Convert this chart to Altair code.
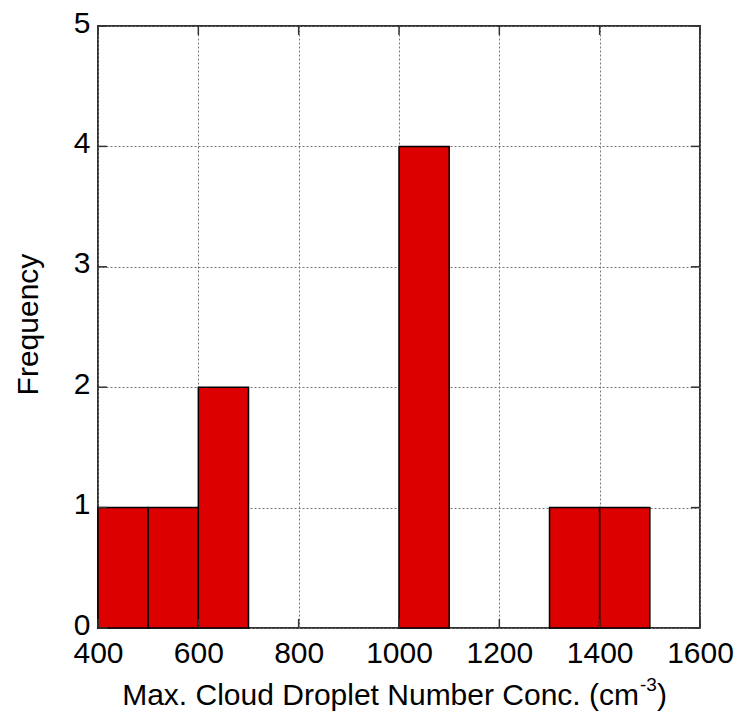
import altair as alt
import pandas as pd

# Histogram data
bin_start = [400, 500, 600, 1000, 1300, 1400]
bin_end = [500, 600, 700, 1100, 1400, 1500]
frequency = [1, 1, 2, 4, 1, 1]
x_ticks = [400, 600, 800, 1000, 1200, 1400, 1600]
y_ticks = [0, 1, 2, 3, 4, 5]

W, H = 602, 602
FONT = "Liberation Sans"
FS = 30

bars_df = pd.DataFrame({"start": bin_start, "end": bin_end, "freq": frequency})
xt_df = pd.DataFrame({"v": x_ticks})
yt_df = pd.DataFrame({"v": y_ticks})

xs = alt.Scale(domain=[400, 1600], nice=False, zero=False)
ys = alt.Scale(domain=[0, 5], nice=False)

x_axis = alt.Axis(values=x_ticks, title=None, grid=True, gridDash=[2, 2],
                  gridColor="#777777", gridWidth=1, ticks=False, domain=False,
                  labelFontSize=FS, labelFont=FONT, labelColor="black",
                  labelPadding=10, labelFlush=False, format="d")
y_axis = alt.Axis(values=y_ticks, title="Frequency", grid=True, gridDash=[2, 2],
                  gridColor="#777777", gridWidth=1, ticks=False, domain=False,
                  labelFontSize=FS, labelFont=FONT, labelColor="black",
                  labelPadding=8, labelFlush=False, format="d", labelOffset=-3,
                  titleFontSize=FS, titleFont=FONT, titleFontWeight="normal",
                  titleColor="black", titleX=-55, titleY=298, titleAngle=270,
                  titleBaseline="bottom")

bars = alt.Chart(bars_df).mark_rect(fill="#DD0000", stroke="black", strokeWidth=1.5).encode(
    x=alt.X("start:Q", scale=xs, axis=x_axis),
    x2="end:Q",
    y=alt.Y("freq:Q", scale=ys, axis=y_axis),
    y2=alt.datum(0),
)

TL = 9
tick_style = dict(color="#333333", strokeWidth=1.5)
xt_bottom = alt.Chart(xt_df).mark_rule(**tick_style).encode(
    x=alt.X("v:Q", scale=xs), y=alt.value(H), y2=alt.value(H - TL))
xt_top = alt.Chart(xt_df).mark_rule(**tick_style).encode(
    x=alt.X("v:Q", scale=xs), y=alt.value(0), y2=alt.value(TL))
yt_left = alt.Chart(yt_df).mark_rule(**tick_style).encode(
    y=alt.Y("v:Q", scale=ys), x=alt.value(0), x2=alt.value(TL))
yt_right = alt.Chart(yt_df).mark_rule(**tick_style).encode(
    y=alt.Y("v:Q", scale=ys), x=alt.value(W), x2=alt.value(W - TL))

# X axis title with superscript
title_df = pd.DataFrame({"t": ["Max. Cloud Droplet Number Conc. (cm"]})
sup_df = pd.DataFrame({"t": ["-3"]})
par_df = pd.DataFrame({"t": [")"]})
TB = 679
title_main = alt.Chart(title_df).mark_text(font=FONT, fontSize=FS, align="right",
                                            baseline="alphabetic", color="black").encode(
    text="t:N", x=alt.value(541), y=alt.value(TB))
title_sup = alt.Chart(sup_df).mark_text(font=FONT, fontSize=19, align="left",
                                         baseline="alphabetic", color="black").encode(
    text="t:N", x=alt.value(542), y=alt.value(TB - 14))
title_par = alt.Chart(par_df).mark_text(font=FONT, fontSize=FS, align="left",
                                         baseline="alphabetic", color="black").encode(
    text="t:N", x=alt.value(559), y=alt.value(TB))

chart = alt.layer(bars, xt_bottom, xt_top, yt_left, yt_right,
                  title_main, title_sup, title_par).properties(
    width=W, height=H,
    autosize=alt.AutoSizeParams(type="none"),
    padding={"left": 98, "top": 26, "right": 37, "bottom": 89},
    background="white",
).configure_view(stroke="#333333", strokeWidth=2)

chart.save("out.html", embed_options={"renderer": "svg", "actions": False})
